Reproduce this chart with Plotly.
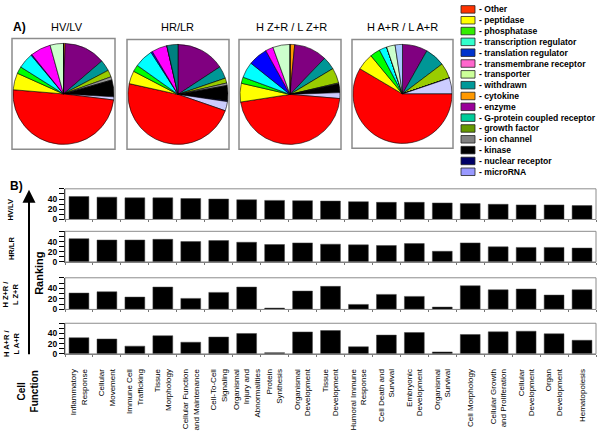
import plotly.graph_objects as go

# ---------------- data ----------------
pie_titles = ["HV/LV", "HR/LR", "H Z+R / L Z+R", "H A+R / L A+R"]
pie_categories = ["cytokine", "enzyme", "G-protein coupled receptor", "growth factor",
                  "ion channel", "kinase", "nuclear receptor", "microRNA", "Other",
                  "peptidase", "phosphatase", "transcription regulator",
                  "translation regulator", "transmembrane receptor", "transporter",
                  "withdrawn"]
pie_hv_lv = [0.5, 13.0, 3.5, 2.2, 1.0, 5.3, 0.0, 1.0, 48.6, 5.3, 2.2, 4.9, 0.3, 6.4, 4.2, 0.0]
pie_hr_lr = [0.0, 15.8, 4.0, 1.6, 0.8, 4.9, 0.3, 3.0, 48.3, 4.2, 2.2, 6.1, 0.5, 5.0, 0.0, 3.6]
pie_hzr_lzr = [1.5, 10.6, 4.2, 4.9, 0.3, 2.8, 0.0, 1.9, 46.0, 6.0, 2.0, 5.1, 6.2, 2.5, 5.5, 0.0]
pie_har_lar = [0.0, 8.2, 6.5, 5.1, 0.0, 0.0, 0.0, 5.2, 58.5, 5.5, 3.3, 2.5, 0.0, 0.0, 2.8, 2.4]

legend_labels = ["Other", "peptidase", "phosphatase", "transcription regulator",
                 "translation regulator", "transmembrane receptor", "transporter",
                 "withdrawn", "cytokine", "enzyme", "G-protein coupled receptor",
                 "growth factor", "ion channel", "kinase", "nuclear receptor", "microRNA"]

functions = ["Inflammatory Response", "Cellular Movement", "Immune Cell Trafficking",
             "Tissue Morphology", "Cellular Function and Maintenance",
             "Cell-To-Cell Signaling", "Organismal Injury and Abnormalities",
             "Protein Synthesis", "Organismal Development", "Tissue Development",
             "Humoral Immune Response", "Cell Death and Survival",
             "Embryonic Development", "Organismal Survival", "Cell Morphology",
             "Cellular Growth and Proliferation", "Cellular Development",
             "Organ Development", "Hematopoiesis"]
function_ticktext = ["Inflammatory<br>Response", "Cellular<br>Movement",
                     "Immune Cell<br>Trafficking", "Tissue<br>Morphology",
                     "Cellular Function<br>and Maintenance", "Cell-To-Cell<br>Signaling",
                     "Organismal<br>Injury and<br>Abnormalities", "Protein<br>Synthesis",
                     "Organismal<br>Development", "Tissue<br>Development",
                     "Humoral Immune<br>Response", "Cell Death and<br>Survival",
                     "Embryonic<br>Development", "Organismal<br>Survival",
                     "Cell Morphology", "Cellular Growth<br>and Proliferation",
                     "Cellular<br>Development", "Organ<br>Development", "Hematopoiesis"]
rank_hv_lv = [45, 43.7, 42.4, 42.4, 41, 40, 38.6, 37.3, 36.7, 36, 34.8, 33.5, 33.5,
              32.3, 31, 29.7, 28.5, 28.5, 27.2]
rank_hr_lr = [45.6, 43, 43, 44.3, 39.9, 41.8, 38.6, 34.2, 37.3, 34.8, 33.5, 32.3, 36,
              20.9, 37.3, 29.7, 28.5, 28.5, 27.2]
rank_hzr_lzr = [31, 33.5, 23.4, 42.4, 20.9, 32.3, 42.4, 2.5, 34.8, 43.7, 9.5, 28.5,
                24.7, 4.4, 44.9, 37.3, 38.6, 27.2, 37.3]
rank_har_lar = [31.7, 29.2, 15.2, 35.6, 22.9, 33, 40, 2.5, 43, 45.7, 14, 36.8, 41.9,
                3.8, 38, 43.2, 44.4, 39.4, 26.7]
panel_labels = ["HV/LV", "HR/LR", "H Z+R /<br>L Z+R", "H A+R /<br>L A+R"]
rank_ticks = [0, 10, 20, 30, 40, 50, 60]
rank_ticktext = ["0", "", "20", "", "40", "", ""]

# ---------------- styles ----------------
pie_colors = {"cytokine": "#ff9900", "enzyme": "#800080",
              "G-protein coupled receptor": "#009696", "growth factor": "#99cc00",
              "ion channel": "#969696", "kinase": "#000000", "nuclear receptor": "#000080",
              "microRNA": "#ccccff", "Other": "#ff0000", "peptidase": "#ffff00",
              "phosphatase": "#00ff00", "transcription regulator": "#00ffff",
              "translation regulator": "#0000ff", "transmembrane receptor": "#ff00ff",
              "transporter": "#ccffcc", "withdrawn": "#008080"}
pie_color_override = {3: {"withdrawn": "#a8c8ff"}}
legend_colors = ["#ff3300", "#ffff00", "#33ee00", "#33ffcc", "#0033cc", "#ff66cc",
                 "#ccff99", "#009999", "#ff9900", "#990099", "#00cc99", "#669900",
                 "#808080", "#000000", "#000066", "#9999ff"]

W, H = 602, 437
SANS = "Liberation Sans, Arial, sans-serif"


def px(x):
    return x / W


def py(y):
    return 1 - y / H


def note(text, x, y, size, angle=0, bold=False, xanchor="center", align="center"):
    fig.add_annotation(text=text, x=px(x), y=py(y), xref="paper", yref="paper",
                       xanchor=xanchor, yanchor="middle", showarrow=False,
                       textangle=angle, align=align,
                       font=dict(family=SANS, size=size, color="black",
                                 weight="bold" if bold else "normal"))


fig = go.Figure()

# ---------------- pies ----------------
pie_series = [pie_hv_lv, pie_hr_lr, pie_hzr_lzr, pie_har_lar]
boxes = [(12, 115, 39, 151), (127, 229, 40, 151), (239, 341, 40, 151), (352, 453, 40, 150)]
title_x = [67, 177, 291, 402]
for i, (vals, title) in enumerate(zip(pie_series, pie_titles)):
    x0, x1, y0, y1 = boxes[i]
    over = pie_color_override.get(i, {})
    cols = [over.get(c, pie_colors[c]) for c in pie_categories]
    fig.add_trace(go.Pie(labels=pie_categories, values=vals, sort=False,
                         direction="clockwise", rotation=0, textinfo="none",
                         marker=dict(colors=cols, line=dict(color="black", width=0.6)),
                         domain=dict(x=[px(x0 + 1), px(x1 - 1)], y=[py(y1 - 1), py(y0 + 1)]),
                         showlegend=False, name=title))
    fig.add_shape(type="rect", xref="paper", yref="paper", x0=px(x0), x1=px(x1),
                  y0=py(y1), y1=py(y0), line=dict(color="#8c8c8c", width=1.5))
    note(title, title_x[i], 27, 11)

note("A)", 19, 27, 12, bold=True)

# legend (drawn as swatches + text)
for i, (lab, col) in enumerate(zip(legend_labels, legend_colors)):
    yc = 9.5 + 10.95 * i
    fig.add_shape(type="rect", xref="paper", yref="paper", x0=px(461), x1=px(475),
                  y0=py(yc + 3.8), y1=py(yc - 3.8), fillcolor=col,
                  line=dict(color="#222", width=0.8))
    note("- " + lab, 476.5, yc, 8.6, bold=True, xanchor="left")

# ---------------- bar panels ----------------
rank_series = [rank_hv_lv, rank_hr_lr, rank_hzr_lzr, rank_har_lar]
panels = [(191, 222), (234, 265), (281, 313), (327, 358)]
label_y = [212, 252, 298, 347]
for i, vals in enumerate(rank_series):
    sfx = "" if i == 0 else str(i + 1)
    top, bot = panels[i]
    fig.add_trace(go.Bar(x=functions, y=vals, xaxis="x" + sfx, yaxis="y" + sfx,
                         marker=dict(color="black", line=dict(color="#444", width=0.5)),
                         width=0.71, showlegend=False))
    fig.update_layout({
        "xaxis" + sfx: dict(domain=[px(65), px(596)], anchor="y" + sfx, type="category",
                            showline=True, linecolor="#777", linewidth=1,
                            ticks="outside", tickson="boundaries", ticklen=2,
                            tickcolor="#777", showgrid=False,
                            showticklabels=(i == 3), tickangle=-90,
                            tickvals=functions, ticktext=function_ticktext,
                            ticklabelstandoff=11,
                            tickfont=dict(family=SANS, size=8, color="black")),
        "yaxis" + sfx: dict(domain=[py(bot), py(top)], anchor="x" + sfx, range=[0, 60],
                            tickvals=rank_ticks, ticktext=rank_ticktext, ticks="outside",
                            ticklen=5, tickcolor="black", showline=True, linecolor="black",
                            linewidth=1.2, showgrid=False, zeroline=False,
                            tickfont=dict(family=SANS, size=8.5, color="black",
                                          weight="bold")),
    })
    fig.add_shape(type="rect", xref="x" + sfx + " domain", yref="y" + sfx + " domain",
                  x0=0, x1=1, y0=0, y1=1, line=dict(color="#8c8c8c", width=1))
    note(panel_labels[i], 11, label_y[i], 7.5, angle=-90, bold=True)

note("B)", 16, 188, 12, bold=True)
note("Ranking", 39, 277, 11, angle=-90, bold=True)
note("Cell<br>Function", 28, 396, 10, angle=-90, bold=True)
# vertical arrow
fig.add_annotation(text="", x=px(29), y=py(192), xref="paper", yref="paper",
                   ax=0, ay=166, axref="pixel", ayref="pixel", showarrow=True,
                   arrowhead=2, arrowsize=1.3, arrowwidth=2, arrowcolor="black")

fig.update_layout(width=W, height=H, margin=dict(l=0, r=0, t=0, b=0),
                  paper_bgcolor="white", plot_bgcolor="white", bargap=0.29,
                  showlegend=False)
fig.write_html("out.html", config={"displayModeBar": False},
               post_script="document.body.style.margin='0px';")
